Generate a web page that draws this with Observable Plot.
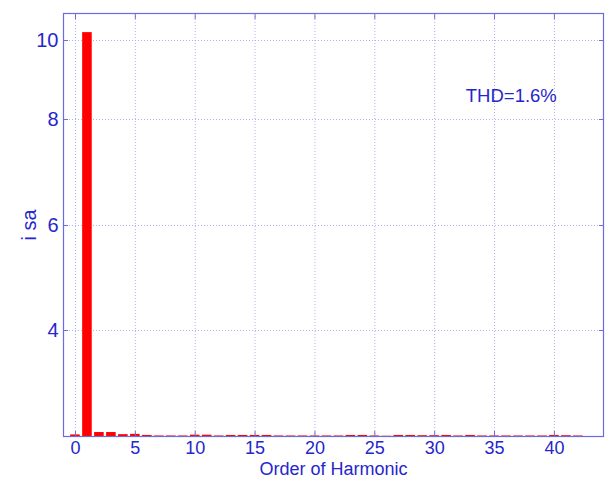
<!DOCTYPE html>
<html>
<head>
<meta charset="utf-8">
<script src="https://cdn.jsdelivr.net/npm/d3@7"></script>
<script src="https://cdn.jsdelivr.net/npm/@observablehq/plot@0.6"></script>
<style>
  html, body { margin: 0; padding: 0; background: #fff; }
  #chart { width: 605px; height: 478px; }
</style>
</head>
<body>
<div id="chart"></div>
<script>
// Harmonic spectrum of phase current i_sa
const harmonicOrder = d3.range(0, 43);
const amplitude = [
  0.06, 10.4, 0.15, 0.15, 0.07, 0.08, 0.04, 0.02, 0.02, 0.02,
  0.05, 0.05, 0.02, 0.04, 0.04, 0.04, 0.04, 0.02, 0.02, 0.02,
  0.02, 0.02, 0.02, 0.04, 0.04, 0.02, 0.01, 0.04, 0.04, 0.03,
  0.03, 0.04, 0.02, 0.04, 0.02, 0.02, 0.02, 0.02, 0.02, 0.02,
  0.04, 0.03, 0.02
];
const xTicks = [0, 5, 10, 15, 20, 25, 30, 35, 40];
const yTicks = [4, 6, 8, 10];
const annotation = [{h: 36.4, v: 8.6, text: "THD=1.6%"}];

// piecewise-linear amplitude axis (compressed near the top)
const yDomain = [0, 4, 6, 8, 10, 11.37];
const yRange = [436, 330, 225, 119, 40, 13];

const data = harmonicOrder.map((h, i) => ({h, v: amplitude[i]}));

const blue = "#2626cc";
const axisLine = "#6c6cdc";
const gridColor = "#a8a8ee";

const chart = Plot.plot({
  width: 605,
  height: 478,
  marginLeft: 63,
  marginRight: 2,
  marginTop: 13,
  marginBottom: 42,
  style: {fontFamily: "'Liberation Sans', Arial, sans-serif", background: "#fff"},
  x: {type: "linear", domain: [-1, 44.1]},
  y: {type: "linear", domain: yDomain, range: yRange},
  marks: [
    Plot.gridX(xTicks, {stroke: gridColor, strokeOpacity: 0.9, strokeDasharray: "1,2"}),
    Plot.gridY(yTicks, {stroke: gridColor, strokeOpacity: 0.9, strokeDasharray: "1,2"}),
    Plot.rectY(data, {
      x1: d => d.h - 0.4,
      x2: d => d.h + 0.4,
      y1: 0,
      y2: "v",
      fill: "#ff0000"
    }),
    Plot.frame({stroke: axisLine, strokeWidth: 1.2}),
    Plot.axisX(xTicks, {
      anchor: "bottom", tickSize: -5, tickPadding: 10,
      stroke: axisLine, fill: blue, fontSize: 18,
      label: "Order of Harmonic", labelAnchor: "center", labelArrow: "none", labelOffset: 38
    }),
    Plot.axisX(xTicks, {anchor: "top", tickSize: -5, text: null, stroke: axisLine, label: null}),
    Plot.axisY(yTicks, {
      anchor: "left", tickSize: -5, tickPadding: 10,
      stroke: axisLine, fill: blue, fontSize: 20,
      label: "i sa", labelAnchor: "center", labelArrow: "none", labelOffset: 42
    }),
    Plot.axisY(yTicks, {anchor: "right", tickSize: -5, text: null, stroke: axisLine, label: null}),
    Plot.text(annotation, {x: "h", y: "v", text: "text", fill: blue, fontSize: 18.5})
  ]
});

document.getElementById("chart").appendChild(chart);
</script>
</body>
</html>
